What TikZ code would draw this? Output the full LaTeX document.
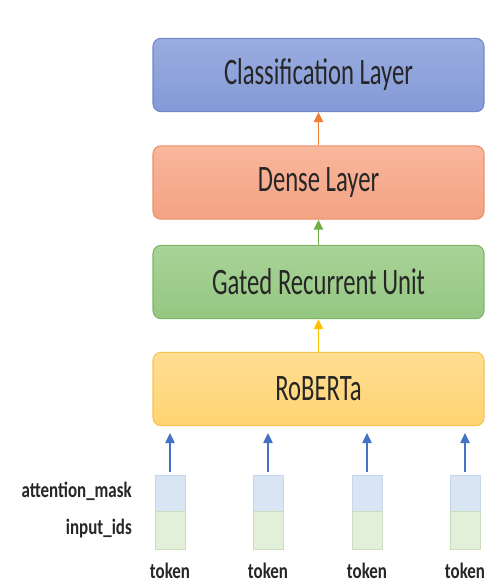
\documentclass[tikz,border=0pt]{standalone}
\usepackage{fontspec}
\setmainfont{Carlito}
\newfontfamily\boxfont[FakeStretch=0.66]{Carlito}
\newfontfamily\lblfont[FakeStretch=0.77]{Carlito}
\usetikzlibrary{arrows.meta}

\definecolor{txt}{HTML}{262626}
\definecolor{clsTop}{HTML}{9AADE0}\definecolor{clsBot}{HTML}{8499D6}\definecolor{clsLine}{HTML}{7088CA}
\definecolor{denTop}{HTML}{F8B79C}\definecolor{denBot}{HTML}{F4A283}\definecolor{denLine}{HTML}{EC8F6B}
\definecolor{gruTop}{HTML}{A9D398}\definecolor{gruBot}{HTML}{94C781}\definecolor{gruLine}{HTML}{7FB469}
\definecolor{robTop}{HTML}{FFDD92}\definecolor{robBot}{HTML}{FFD472}\definecolor{robLine}{HTML}{F7C352}
\definecolor{arrOrange}{HTML}{ED7D31}
\definecolor{arrGreen}{HTML}{70AD47}
\definecolor{arrGold}{HTML}{FFC000}
\definecolor{arrBlue}{HTML}{4472C4}
\definecolor{maskFill}{HTML}{DAE5F4}\definecolor{maskLine}{HTML}{C6D5EB}
\definecolor{idsFill}{HTML}{E2EFD9}\definecolor{idsLine}{HTML}{CADDBD}

\tikzset{
  layer/.style={rectangle, rounded corners=6pt, line width=0.8pt,
    minimum width=248.25pt, minimum height=55pt, inner sep=0pt,
    font=\boxfont\fontsize{28pt}{31pt}\selectfont, text=txt},
  cell/.style={rectangle, line width=0.6pt, minimum width=22.5pt, inner sep=0pt},
  maskcell/.style={cell, fill=maskFill, draw=maskLine, minimum height=27pt},
  idscell/.style={cell, fill=idsFill, draw=idsLine, minimum height=28.5pt},
  lbl/.style={font=\lblfont\bfseries\fontsize{16.5pt}{18pt}\selectfont, text=txt, inner sep=0pt},
  flow/.style={line width=1pt, -{Triangle[width=7pt,length=7.5pt]}},
}

\begin{document}
\begin{tikzpicture}[x=0.75pt,y=-0.75pt]
  \useasboundingbox (0,0) rectangle (485,585);

  % stacked layers
  \node[layer, top color=clsTop, bottom color=clsBot, draw=clsLine] (cls) at (318.5,75) {Classification Layer};
  \node[layer, top color=denTop, bottom color=denBot, draw=denLine] (dense) at (318.5,182.5) {Dense Layer};
  \node[layer, top color=gruTop, bottom color=gruBot, draw=gruLine] (gru) at (318.5,282) {Gated Recurrent Unit};
  \node[layer, top color=robTop, bottom color=robBot, draw=robLine] (rob) at (318.5,389) {RoBERTa};

  \draw[flow, arrOrange] (dense.north) -- (cls.south);
  \draw[flow, arrGreen] (gru.north) -- (dense.south);
  \draw[flow, arrGold] (rob.north) -- (gru.south);

  % token inputs
  \foreach \i/\x in {1/170, 2/268, 3/367, 4/465} {
    \node[maskcell] (mask\i) at (\x,493) {};
    \node[idscell, anchor=north] (ids\i) at (mask\i.south) {};
    \node[lbl] (tok\i) at (\x,571) {token};
    \coordinate (in\i) at (\x,433);
    \draw[flow, arrBlue, shorten <=2pt] (mask\i.north) -- (in\i);
  }

  \node[lbl, anchor=east] (lmask) at (132,491) {attention\_mask};
  \node[lbl, anchor=east] (lids) at (132,529) {input\_ids};
\end{tikzpicture}
\end{document}
